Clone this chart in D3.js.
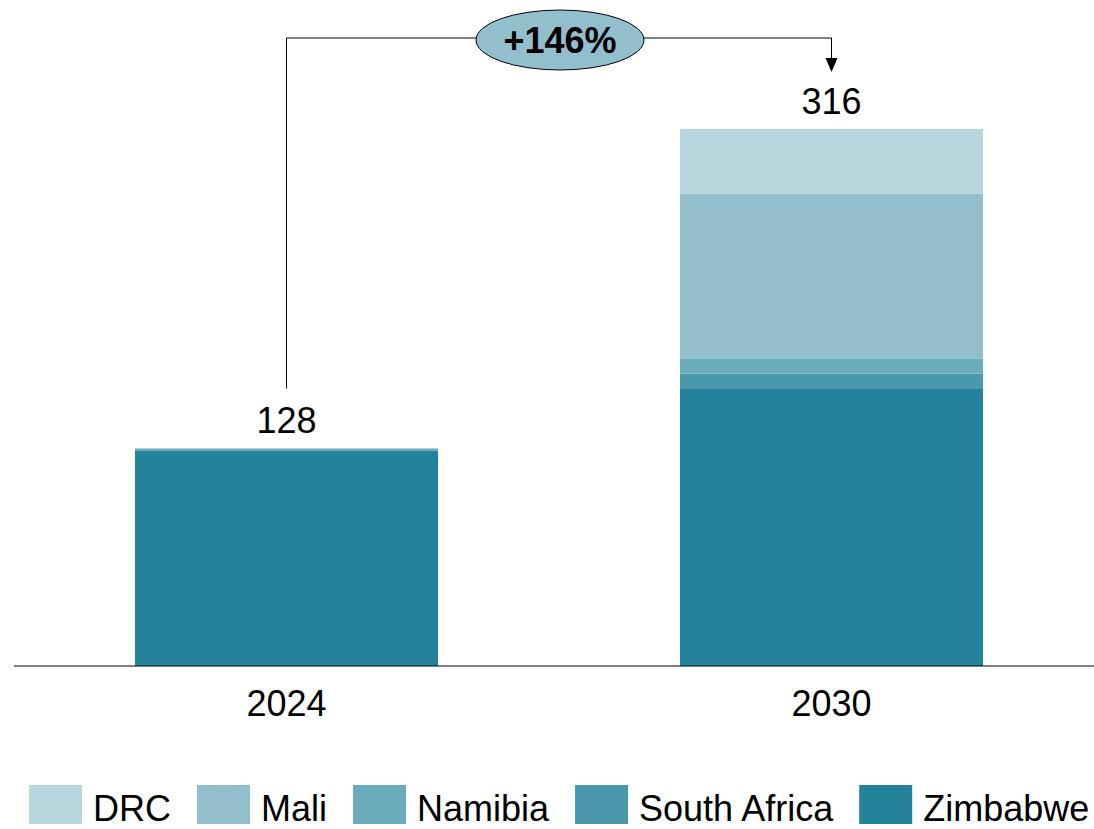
<!DOCTYPE html>
<html>
<head>
<meta charset="utf-8">
<script src="https://cdn.jsdelivr.net/npm/d3@7"></script>
<style>
  html, body { margin: 0; padding: 0; background: #fff; }
  svg { display: block; font-family: "Liberation Sans", Arial, sans-serif; }
</style>
</head>
<body>
<svg id="chart" width="1094" height="829"></svg>
<script>
// Years on the x axis
const years = ["2024", "2030"];
// Countries, stacked bottom-to-top in reverse of the legend order
const countries = ["DRC", "Mali", "Namibia", "South Africa", "Zimbabwe"];
const countryColors = ["#b7d6de", "#93bfcc", "#6aabbc", "#4a98ab", "#24829b"];
// Values per country for each year
const drc        = [0, 38];
const mali       = [0, 97];
const namibia    = [1.5, 9];
const southAfrica= [0, 9];
const zimbabwe   = [126.5, 163];
const totals     = [128, 316];
const growthLabel = "+146%";

const seriesValues = { "DRC": drc, "Mali": mali, "Namibia": namibia, "South Africa": southAfrica, "Zimbabwe": zimbabwe };

const rows = years.map((y, i) => {
  const r = { year: y };
  countries.forEach(c => { r[c] = seriesValues[c][i]; });
  return r;
});

const svg = d3.select("#chart");
const baseY = 666;

const x = d3.scaleBand().domain(years).range([14, 1104]).paddingInner(0.444).paddingOuter(0.222);
const y = d3.scaleLinear().domain([0, 316]).range([baseY, 129]);
const color = d3.scaleOrdinal().domain(countries).range(countryColors);

// Stack order: Zimbabwe at the bottom, DRC at the top
const stack = d3.stack().keys(countries.slice().reverse());
const stacked = stack(rows);

svg.append("g").selectAll("g")
  .data(stacked)
  .join("g")
  .attr("fill", d => color(d.key))
  .selectAll("rect")
  .data(d => d.filter(p => p[1] - p[0] > 0))
  .join("rect")
  .attr("x", d => x(d.data.year))
  .attr("width", x.bandwidth())
  .attr("y", d => y(d[1]))
  .attr("height", d => y(d[0]) - y(d[1]));

// Baseline axis
svg.append("line")
  .attr("x1", 14).attr("x2", 1094)
  .attr("y1", baseY).attr("y2", baseY)
  .attr("stroke", "#000").attr("stroke-width", 1);

// Category labels
svg.append("g").selectAll("text")
  .data(years)
  .join("text")
  .attr("x", d => x(d) + x.bandwidth() / 2)
  .attr("y", 716)
  .attr("text-anchor", "middle")
  .attr("font-size", 36)
  .attr("fill", "#000")
  .text(d => d);

// Totals above bars
svg.append("g").selectAll("text")
  .data(years)
  .join("text")
  .attr("x", d => x(d) + x.bandwidth() / 2)
  .attr("y", (d, i) => y(totals[i]) - 15)
  .attr("text-anchor", "middle")
  .attr("font-size", 36)
  .attr("fill", "#000")
  .text((d, i) => totals[i]);

// Growth connector
const cx0 = x(years[0]) + x.bandwidth() / 2;
const cx1 = x(years[1]) + x.bandwidth() / 2;
const lineY = 38;
const tipY = 72;
svg.append("path")
  .attr("d", `M${cx0},${y(totals[0]) - 60}V${lineY}H${cx1}V${tipY - 13}`)
  .attr("fill", "none")
  .attr("stroke", "#000")
  .attr("stroke-width", 1);
svg.append("path")
  .attr("d", `M${cx1 - 6},${tipY - 14}L${cx1 + 6},${tipY - 14}L${cx1},${tipY}Z`)
  .attr("fill", "#000");

const ex = (cx0 + cx1) / 2 + 1;
svg.append("ellipse")
  .attr("cx", ex).attr("cy", 40)
  .attr("rx", 84).attr("ry", 30)
  .attr("fill", "#93bfcc")
  .attr("stroke", "#000")
  .attr("stroke-width", 1);
svg.append("text")
  .attr("x", ex).attr("y", 53)
  .attr("text-anchor", "middle")
  .attr("font-size", 36)
  .attr("font-weight", "bold")
  .attr("fill", "#000")
  .text(growthLabel);

// Legend
const legend = svg.append("g");
let lx = 29;
countries.forEach(c => {
  legend.append("rect")
    .attr("x", lx).attr("y", 785)
    .attr("width", 53).attr("height", 39)
    .attr("fill", color(c));
  const t = legend.append("text")
    .attr("x", lx + 64).attr("y", 821)
    .attr("font-size", 36)
    .attr("fill", "#000")
    .text(c);
  lx = lx + 64 + t.node().getComputedTextLength() + 26;
});
</script>
</body>
</html>
